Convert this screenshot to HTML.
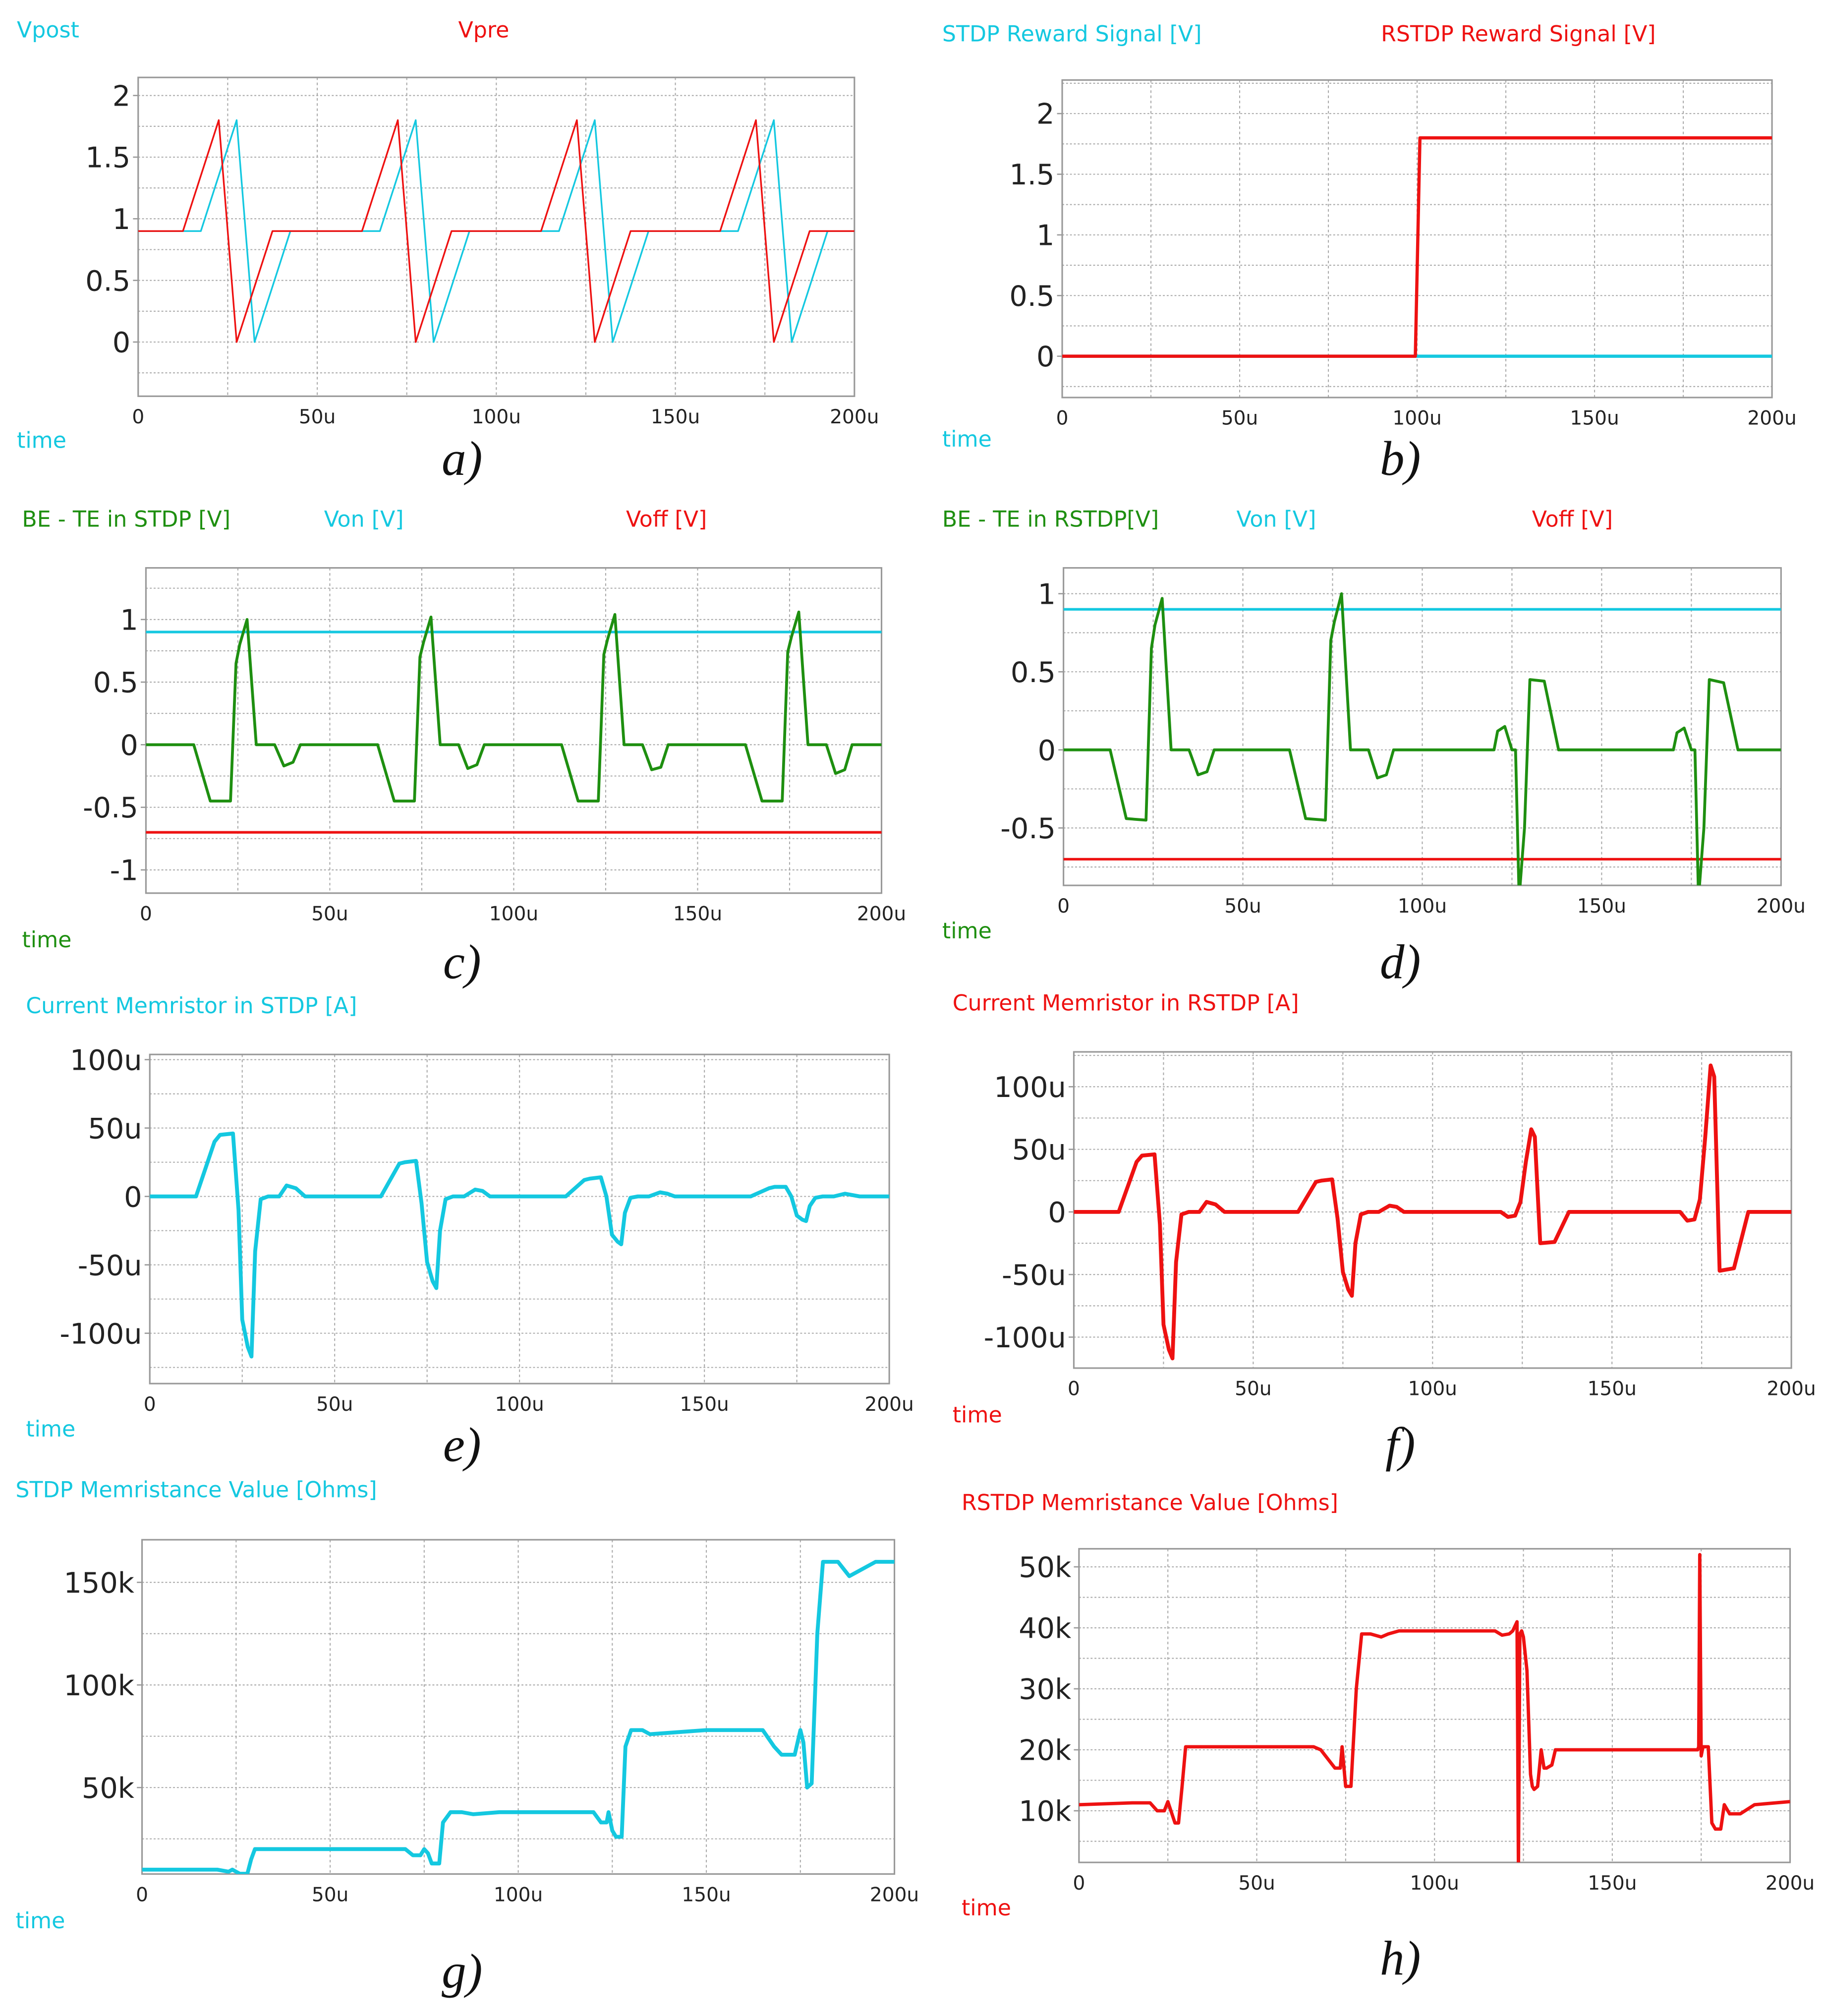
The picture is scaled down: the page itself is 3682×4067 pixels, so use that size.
<!DOCTYPE html>
<html><head><meta charset="utf-8"><style>
html,body{margin:0;padding:0;background:#fff;}
svg{display:block;}
text{font-family:"DejaVu Sans","Liberation Sans",sans-serif;}
.pl{font-family:"Liberation Serif",serif;font-style:italic;font-size:38px;fill:#111;}
</style></head><body>
<svg id="fig" width="3682" height="4067" viewBox="0 0 1414 1562" xmlns="http://www.w3.org/2000/svg">
<rect width="1414" height="1562" fill="#fff"/>
</svg>
<script>
const C='#14c8e0', R='#ee1111', G='#1e8f10';
// ---- panel a
const aPreT=[0,12.5,22.5,27.5,37.5,62.5,72.5,77.5,87.5,112.5,122.5,127.5,137.5,162.5,172.5,177.5,187.5,200];
const aPreV=[0.9,0.9,1.8,0,0.9,0.9,1.8,0,0.9,0.9,1.8,0,0.9,0.9,1.8,0,0.9,0.9];
const aPostT=[0,17.5,27.5,32.5,42.5,67.5,77.5,82.5,92.5,117.5,127.5,132.5,142.5,167.5,177.5,182.5,192.5,200];
const aPostV=[0.9,0.9,1.8,0,0.9,0.9,1.8,0,0.9,0.9,1.8,0,0.9,0.9,1.8,0,0.9,0.9];
const aTicks=[2,1.5,1,0.5,0];
const aTickLabels=['2','1.5','1','0.5','0'];
// ---- panel b
const bRedT=[0,99.5,100.8,200];
const bRedV=[0,0,1.8,1.8];
const bCyanT=[0,200];
const bCyanV=[0,0];
const bTicks=[2,1.5,1,0.5,0];
const bTickLabels=['2','1.5','1','0.5','0'];
// ---- panel c
const cT=[0,13,17.5,23,24.5,25.5,27.5,30,35,37.5,40,42,63,67.5,73,74.5,75.5,77.5,80,85,87.5,90,92,113,117.5,123,124.5,125.5,127.5,130,135,137.5,140,142,163,167.5,173,174.5,175.5,177.5,180,185,187.5,190,192,200];
const cV=[0,0,-0.45,-0.45,0.65,0.8,1.0,0,0,-0.17,-0.14,0,0,-0.45,-0.45,0.7,0.82,1.02,0,0,-0.19,-0.16,0,0,-0.45,-0.45,0.72,0.84,1.04,0,0,-0.2,-0.18,0,0,-0.45,-0.45,0.74,0.86,1.06,0,0,-0.23,-0.2,0,0];
const cVon=0.9, cVoff=-0.7;
const cTicks=[1,0.5,0,-0.5,-1];
const cTickLabels=['1','0.5','0','-0.5','-1'];
// ---- panel d
const dT=[0,13,17.5,23,24.5,25.5,27.5,30,35,37.5,40,42,63,67.5,73,74.5,75.5,77.5,80,85,87.5,90,92,113,120,121,123,125,126,127,128.5,130,134,138,163,170,171,173,175,176,177,178.5,180,184,188,200];
const dV=[0,0,-0.44,-0.45,0.65,0.8,0.97,0,0,-0.16,-0.14,0,0,-0.44,-0.45,0.7,0.82,1.0,0,0,-0.18,-0.16,0,0,0,0.12,0.15,0,0,-0.95,-0.5,0.45,0.44,0,0,0,0.11,0.14,0,0,-0.95,-0.5,0.45,0.43,0,0];
const dVon=0.9, dVoff=-0.7;
const dTicks=[1,0.5,0,-0.5];
const dTickLabels=['1','0.5','0','-0.5'];
// ---- panel e
const eT=[0,12.5,17.5,19,22.5,24,25,26.5,27.5,28.5,30,32,35,37,39.5,42,62.5,67.5,69,72,73.5,75,76.5,77.5,78.5,80,82,85,88,90,92,112.5,117.5,119,122,123.5,125,126.5,127.5,128.5,130,132,135,138,140,142,162.5,167.5,169,172,173.5,175,176.5,177.5,178.5,180,182,185,188,190,192,200];
const eV=[0,0,40,45,46,-10,-90,-110,-117,-40,-2,0,0,8,6,0,0,24,25,26,-5,-48,-62,-67,-25,-2,0,0,5,4,0,0,12,13,14,0,-28,-33,-35,-12,-1,0,0,3,2,0,0,6,7,7,0,-14,-17,-18,-7,-1,0,0,2,1,0,0];
const eTicks=[100,50,0,-50,-100];
const eTickLabels=['100u','50u','0','-50u','-100u'];
// ---- panel f
const fT=[0,12.5,17.5,19,22.5,24,25,26.5,27.5,28.5,30,32,35,37,39.5,42,62.5,67.5,69,72,73.5,75,76.5,77.5,78.5,80,82,85,88,90,92,119,121,123,124.5,126,127.5,128.5,130,134,138,169,171,173,174.5,176,177.5,178.5,180,184,188,200];
const fV=[0,0,40,45,46,-10,-90,-110,-117,-40,-2,0,0,8,6,0,0,24,25,26,-5,-48,-62,-67,-25,-2,0,0,5,4,0,0,-4,-3,8,40,66,60,-25,-24,0,0,-7,-6,10,60,117,108,-47,-45,0,0];
const fTicks=[100,50,0,-50,-100];
const fTickLabels=['100u','50u','0','-50u','-100u'];
// ---- panel g
const gT=[0,15,20,23,24,25,26,28,29,30,32,40,60,70,72,74,75,76,77,79,80,82,85,88,95,115,120,122,123.5,124,125,126,127.5,128.5,130,133,135,150,162,165,168,170,172.5,173.5,175,175.8,176.8,178,179.5,181,185,188,190,195,200];
const gV=[10,10,10,9,10,9,8,8,15,20,20,20,20,20,17,17,20,18,13,13,33,38,38,37,38,38,38,33,33,38,29,26,26,70,78,78,76,78,78,78,70,66,66,66,78,72,50,52,125,160,160,153,155,160,160];
const gTicks=[150,100,50];
const gTickLabels=['150k','100k','50k'];
// ---- panel h
const hT=[0,15,20,22,23.5,24,25,27,28,29,30,33,40,66,68,72,73.5,74,75,76.5,78,79.5,82,85,87,90,117,119,121,122,123.2,123.6,124,124.5,125,126,127,127.5,128,129,130,130.8,131.5,133,134,136,140,160,172,174,174.3,174.6,175,175.5,177,178,179,180.5,181.5,183,186,190,200];
const hV=[11,11.3,11.3,10,10,10,11.5,8,8,14,20.5,20.5,20.5,20.5,20,17,17,20.5,14,14,30,39,39,38.5,39,39.5,39.5,38.8,39,39.5,41,0,39,39.5,38.5,33,16,14,13.5,14,20,17,17,17.5,20,20,20,20,20,20,20.5,52,19,20.5,20.5,8,7,7,11,9.5,9.5,11,11.5,11.5];
const hTicks=[50,40,30,20,10];
const hTickLabels=['50k','40k','30k','20k','10k'];

const xTicks=[0,50,100,150,200];
const xTickLabels=['0','50u','100u','150u','200u'];

const svg=document.getElementById('fig');
const NS='http://www.w3.org/2000/svg';
function mk(tag,attrs,parent){const e=document.createElementNS(NS,tag);for(const k in attrs)e.setAttribute(k,attrs[k]);(parent||svg).appendChild(e);return e;}

function panel(id,box,yRef,ticks,tickLabels,yFont,xFont,gridStep){
  const g=mk('g',{});
  
  
  const xs=t=>box.x0+(t/200)*(box.x1-box.x0);
  const ys=v=>yRef.p0+(v-yRef.v0)*(yRef.p1-yRef.p0)/(yRef.v1-yRef.v0);
  // horizontal grid
  const vTop=yRef.v0+(box.y0-yRef.p0)*(yRef.v1-yRef.v0)/(yRef.p1-yRef.p0);
  const vBot=yRef.v0+(box.y1-yRef.p0)*(yRef.v1-yRef.v0)/(yRef.p1-yRef.p0);
  const lo=Math.min(vTop,vBot),hi=Math.max(vTop,vBot);
  for(let v=Math.ceil(lo/gridStep)*gridStep; v<=hi; v+=gridStep){
    const y=ys(v); if(Math.abs(y-box.y0)<2||Math.abs(y-box.y1)<2) continue;
    const l=mk('line',{x1:box.x0,x2:box.x1,y1:y,y2:y,stroke:'#aaa','stroke-width':0.8,'stroke-dasharray':'1.5,1.5'},g);
    
    
  }
  for(let t=25;t<200;t+=25){
    const l=mk('line',{x1:xs(t),x2:xs(t),y1:box.y0,y2:box.y1,stroke:'#aaa','stroke-width':0.8,'stroke-dasharray':'2,2'},g);
    
    
  }
  const fr=mk('rect',{x:box.x0,y:box.y0,width:box.x1-box.x0,height:box.y1-box.y0,fill:'none',stroke:'#999','stroke-width':1.2},g);
  
  
  ticks.forEach((v,i)=>{
    const y=ys(v);
    mk('line',{x1:box.x0-4,x2:box.x0,y1:y,y2:y,stroke:'#999','stroke-width':1},g);
    const t=mk('text',{x:box.x0-6,y:y+yFont*0.36,'text-anchor':'end','font-size':yFont,fill:'#222'},g);
    t.textContent=tickLabels[i];
    
    
  });
  xTicks.forEach((v,i)=>{
    const t=mk('text',{x:xs(v),y:box.y1+xFont+6,'text-anchor':'middle','font-size':xFont,fill:'#222'},g);
    t.textContent=xTickLabels[i];
    
    
  });
  const cp=mk('clipPath',{id:'clip-'+id},g);
  mk('rect',{x:box.x0,y:box.y0,width:box.x1-box.x0,height:box.y1-box.y0},cp);
  return {g,xs,ys,clip:'url(#clip-'+id+')'};
}
function series(p,T,V,color,w,name){
  const d=T.map((t,i)=>(i?'L':'M')+p.xs(t).toFixed(2)+','+p.ys(V[i]).toFixed(2)).join('');
  const e=mk('path',{d:d,fill:'none',stroke:color,'stroke-width':w,'stroke-linejoin':'round','clip-path':p.clip},p.g);
  
  
}
function hline(p,v,color,w,name){
  const e=mk('line',{x1:p.xs(0),x2:p.xs(200),y1:p.ys(v),y2:p.ys(v),stroke:color,'stroke-width':w},p.g);
  
  
}
function label(x,y,txt,color,size,name){
  const t=mk('text',{x:x,y:y,'font-size':size,fill:color});
  t.textContent=txt;
  
  
}
function plabel(x,y,txt,name){
  const t=mk('text',{x:x,y:y,'class':'pl','text-anchor':'middle'});
  t.textContent=txt;
  
  
}

// a
let p=panel('a',{x0:107,x1:662,y0:60,y1:307},{v0:0,p0:265,v1:2,p1:74},aTicks,aTickLabels,22,15,0.25);
series(p,aPostT,aPostV,C,1.3,'vpost-line');
series(p,aPreT,aPreV,R,1.3,'vpre-line');
label(13,29,'Vpost',C,17,'vpost-legend');label(355,29,'Vpre',R,17,'vpre-legend');label(13,347,'time',C,17,'x-axis-title-a');
plabel(358,368,'a)','panel-label-a');
// b
p=panel('b',{x0:823,x1:1373,y0:62,y1:308},{v0:0,p0:276,v1:2,p1:88},bTicks,bTickLabels,22,15,0.25);
series(p,bCyanT,bCyanV,C,2.5,'stdp-reward-line');
series(p,bRedT,bRedV,R,2.5,'rstdp-reward-line');
label(730,32,'STDP Reward Signal [V]',C,17,'stdp-reward-legend');label(1070,32,'RSTDP Reward Signal [V]',R,17,'rstdp-reward-legend');label(730,346,'time',C,17,'x-axis-title-b');
plabel(1085,368,'b)','panel-label-b');
// c
p=panel('c',{x0:113,x1:683,y0:440,y1:692},{v0:0,p0:577,v1:1,p1:480},cTicks,cTickLabels,22,15,0.25);
hline(p,cVon,C,2,'von-line');hline(p,cVoff,R,2,'voff-line');
series(p,cT,cV,G,2.2,'be-te-stdp-line');
label(17,408,'BE - TE in STDP [V]',G,17,'be-te-legend-c');label(251,408,'Von [V]',C,17,'von-legend-c');label(485,408,'Voff [V]',R,17,'voff-legend-c');label(17,734,'time',G,17,'x-axis-title-c');
plabel(358,758,'c)','panel-label-c');
// d
p=panel('d',{x0:824,x1:1380,y0:440,y1:686},{v0:0,p0:581,v1:1,p1:460},dTicks,dTickLabels,22,15,0.25);
hline(p,dVon,C,2,'von-line');hline(p,dVoff,R,2,'voff-line');
series(p,dT,dV,G,2.2,'be-te-rstdp-line');
label(730,408,'BE - TE  in RSTDP[V]',G,17,'be-te-legend-d');label(958,408,'Von  [V]',C,17,'von-legend-d');label(1187,408,'Voff [V]',R,17,'voff-legend-d');label(730,727,'time',G,17,'x-axis-title-d');
plabel(1085,758,'d)','panel-label-d');
// e
p=panel('e',{x0:116,x1:689,y0:817,y1:1072},{v0:0,p0:927,v1:100,p1:821},eTicks,eTickLabels,22,15,25);
series(p,eT,eV,C,3,'stdp-current-line');
label(20,785,'Current Memristor in STDP [A]',C,17,'stdp-current-legend');label(20,1113,'time',C,17,'x-axis-title-e');
plabel(358,1132,'e)','panel-label-e');
// f
p=panel('f',{x0:832,x1:1388,y0:815,y1:1060},{v0:0,p0:939,v1:100,p1:842},fTicks,fTickLabels,22,15,25);
series(p,fT,fV,R,3,'rstdp-current-line');
label(738,783,'Current Memristor in RSTDP [A]',R,17,'rstdp-current-legend');label(738,1102,'time',R,17,'x-axis-title-f');
plabel(1085,1132,'f)','panel-label-f');
// g
p=panel('g',{x0:110,x1:693,y0:1193,y1:1452},{v0:0,p0:1464.5,v1:150,p1:1226},gTicks,gTickLabels,22,15,25);
series(p,gT,gV,C,3,'stdp-memristance-line');
label(12,1160,'STDP Memristance Value [Ohms]',C,17,'stdp-memristance-legend');label(12,1494,'time',C,17,'x-axis-title-g');
plabel(358,1540,'g)','panel-label-g');
// h
p=panel('h',{x0:836,x1:1387,y0:1200,y1:1443},{v0:10,p0:1403,v1:50,p1:1214},hTicks,hTickLabels,22,15,5);
series(p,hT,hV,R,2.6,'rstdp-memristance-line');
label(745,1170,'RSTDP Memristance Value [Ohms]',R,17,'rstdp-memristance-legend');label(745,1484,'time',R,17,'x-axis-title-h');
plabel(1085,1530,'h)','panel-label-h');
</script>
</body></html>
